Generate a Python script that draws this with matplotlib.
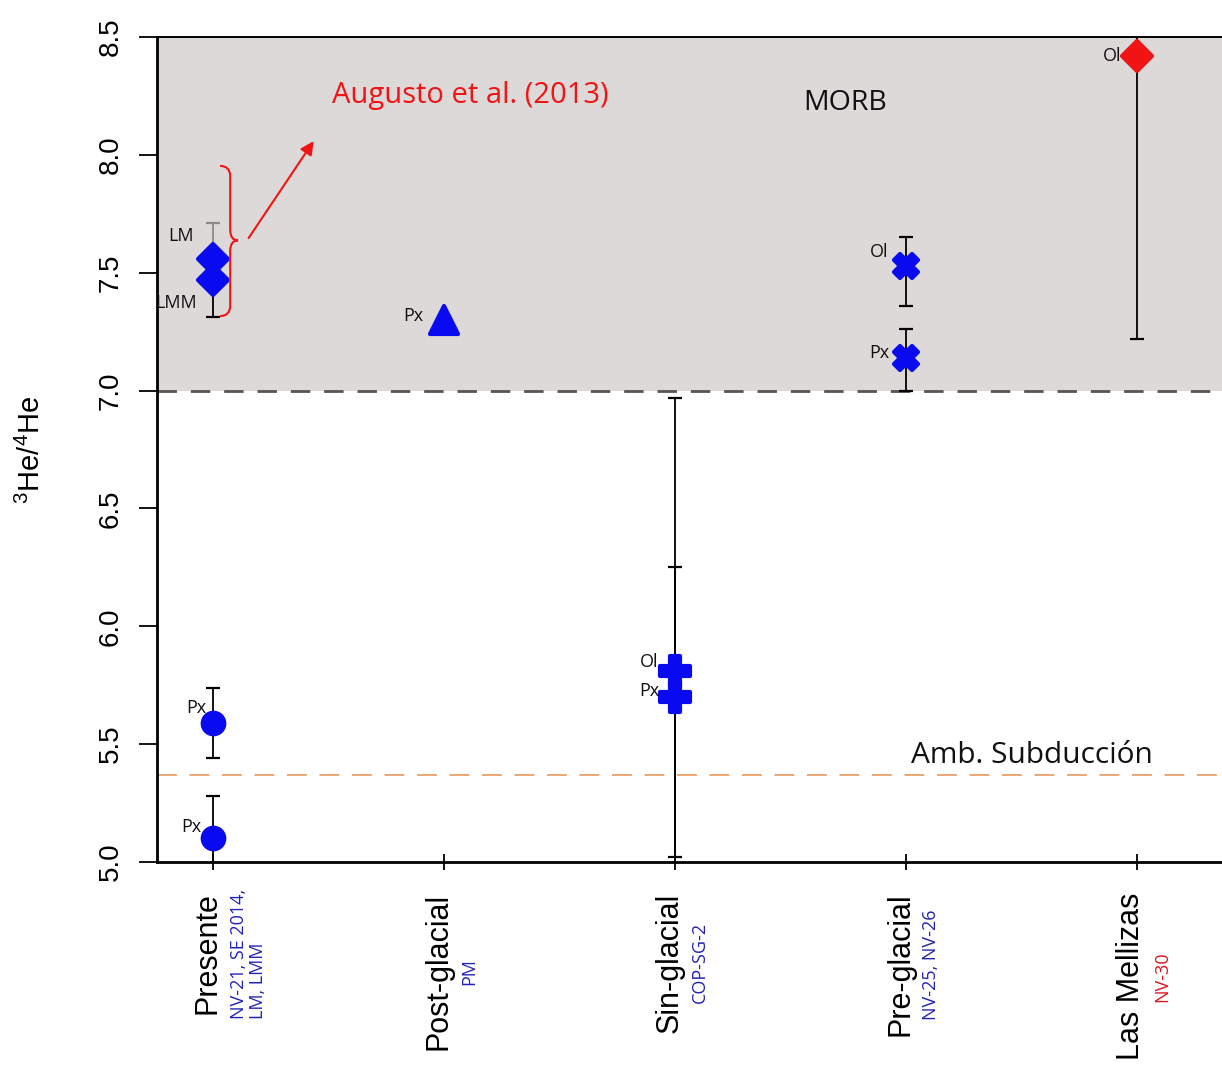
import matplotlib
matplotlib.use("Agg")
import matplotlib.pyplot as plt
from matplotlib.markers import MarkerStyle
from matplotlib.patches import FancyArrowPatch, PathPatch
from matplotlib.path import Path

plt.rcParams["font.family"] = ["Liberation Sans", "DejaVu Sans"]
plt.rcParams["mathtext.fontset"] = "custom"
plt.rcParams["mathtext.rm"] = "Liberation Sans"
plt.rcParams["mathtext.it"] = "Liberation Sans"

# eruptive periods on the x axis and the samples behind each one
periods = ["Presente", "Post-glacial", "Sin-glacial", "Pre-glacial", "Las Mellizas"]
sample_ids = ["NV-21, SE 2014,\nLM, LMM", "PM", "COP-SG-2", "NV-25, NV-26", "NV-30"]

# 3He/4He (R/Ra) per analysed phase, with lower/upper error limits
point_period = [0, 0, 0, 0, 1, 2, 2, 3, 3, 4]
point_mineral = ["LM", "LMM", "Px", "Px", "Px", "Ol", "Px", "Ol", "Px", "Ol"]
point_ratio = [7.56, 7.47, 5.59, 5.10, 7.30, 5.81, 5.70, 7.53, 7.14, 8.42]
point_low = [7.56, 7.31, 5.44, 4.99, 7.30, 4.63, 5.02, 7.36, 7.00, 7.22]
point_high = [7.71, 7.47, 5.74, 5.28, 7.30, 6.97, 6.25, 7.65, 7.26, 9.62]

morb_low = 7.0
morb_high = 8.5
subduction_ratio = 5.37

BLUE = "#0a0af0"
RED = "#f01414"
SUB_BLUE = "#2222b4"
SANS = ["Open Sans", "DejaVu Sans"]

marker_kind = ["D", "D", "o", "o", "^", "P", "P", "X", "X", "D"]
marker_color = [BLUE] * 9 + [RED]
marker_size = [15.5, 15.5, 15.5, 15.5, 20, 22, 22, 17.5, 17.5, 15.5]
err_color = ["#8a8a8a"] + ["black"] * 9
label_offset = [(-14, 16), (-11.5, -17), (-5, 11), (-8.5, 8), (-15, 3),
                (-12, 6.5), (-11.5, 4), (-12.5, 10), (-11.5, 3.5), (-11, 0)]
sub_color = [SUB_BLUE] * 4 + ["#e0141c"]

fig = plt.figure(figsize=(12.22, 10.65), dpi=100)
ax = fig.add_axes([0.1285, 0.1906, 0.8715, 0.7747])
ax.set_xlim(0.757, 5.37)
ax.set_ylim(5.0, 8.5)

# MORB field and the subduction-zone reference
ax.axhspan(morb_low, morb_high, color="#ddd9d9", zorder=0, lw=0)
ax.axhline(morb_low, color="#555555", lw=2.0, dashes=(7, 5), zorder=1)
ax.axhline(subduction_ratio, color="#e9a06c", lw=1.3, dashes=(11, 7), zorder=1)

for i in range(len(point_ratio)):
    x = point_period[i] + 1
    y = point_ratio[i]
    ax.errorbar([x], [y], yerr=[[y - point_low[i]], [point_high[i] - y]], fmt="none",
                ecolor=err_color[i], elinewidth=1.3, capsize=5, capthick=1.6, zorder=2)
for i in range(len(point_ratio)):
    x = point_period[i] + 1
    y = point_ratio[i]
    ax.plot([x], [y], linestyle="none",
            marker=MarkerStyle(marker_kind[i], joinstyle="round"),
            ms=marker_size[i], mfc=marker_color[i], mec=marker_color[i], mew=3, zorder=3)
    ax.annotate(point_mineral[i], (x, y), xytext=label_offset[i], textcoords="offset points",
                ha="right", va="center", fontsize=13, family=SANS,
                color="#111111", zorder=4)

# brace grouping the lake samples, pointing to the published value
xb0, xb1, xb2 = 1.03, 1.074, 1.108
yt, ym, yb, r = 7.953, 7.637, 7.316, 0.045
verts = [(xb0, yt), (xb1, yt), (xb1, yt - r), (xb1, ym + r), (xb1, ym), (xb2, ym),
         (xb1, ym), (xb1, ym - r), (xb1, yb + r), (xb1, yb), (xb0, yb)]
codes = [Path.MOVETO, Path.CURVE3, Path.CURVE3, Path.LINETO, Path.CURVE3, Path.CURVE3,
         Path.CURVE3, Path.CURVE3, Path.LINETO, Path.CURVE3, Path.CURVE3]
ax.add_patch(PathPatch(Path(verts, codes), fc="none", ec=RED, lw=1.5, zorder=4))
ax.add_patch(FancyArrowPatch((1.147, 7.637), (1.442, 8.068), arrowstyle="-|>",
                             mutation_scale=20, lw=1.5, color=RED, zorder=4))

ax.text(1.515, 8.252, "Augusto et al. (2013)", color=RED, fontsize=21, ha="left", va="center",
        family=SANS)
ax.text(3.736, 8.218, "MORB", color="#111111", fontsize=20.5, ha="center", va="center",
        family=SANS)
ax.text(4.545, 5.45, "Amb. Subducción", color="#111111", fontsize=21.5, ha="center",
        va="center", family=SANS)

# axes styling
ax.spines["right"].set_visible(False)
ax.spines["left"].set_linewidth(2.0)
ax.spines["bottom"].set_linewidth(2.0)
ax.spines["top"].set_linewidth(1.4)

ax.set_yticks([5.0, 5.5, 6.0, 6.5, 7.0, 7.5, 8.0, 8.5])
ax.set_yticklabels(["5.0", "5.5", "6.0", "6.5", "7.0", "7.5", "8.0", "8.5"],
                   rotation=90, va="center", fontsize=20)
ax.tick_params(axis="y", length=13, width=1.3, pad=11)
ax.set_xticks(range(1, len(periods) + 1))
ax.set_xticklabels([""] * len(periods))
ax.tick_params(axis="x", direction="inout", length=12, width=1.3)

ax.set_ylabel(r"$^{3}$He/$^{4}$He", fontsize=21)
ax.yaxis.set_label_coords(-0.104, 0.5)

for i, name in enumerate(periods):
    main = ax.annotate(name, (i + 1, 0), xycoords=("data", "axes fraction"),
                       xytext=(-4, -22), textcoords="offset points", rotation=90,
                       ha="center", va="top", fontsize=22, annotation_clip=False)
    ax.annotate(sample_ids[i], (1, 0.5), xycoords=main, xytext=(5, 0),
                textcoords="offset points", rotation=90, ha="left", va="center",
                fontsize=13, color=sub_color[i], family=SANS,
                multialignment="left", linespacing=1.1)

fig.savefig("out.png", dpi=100)
